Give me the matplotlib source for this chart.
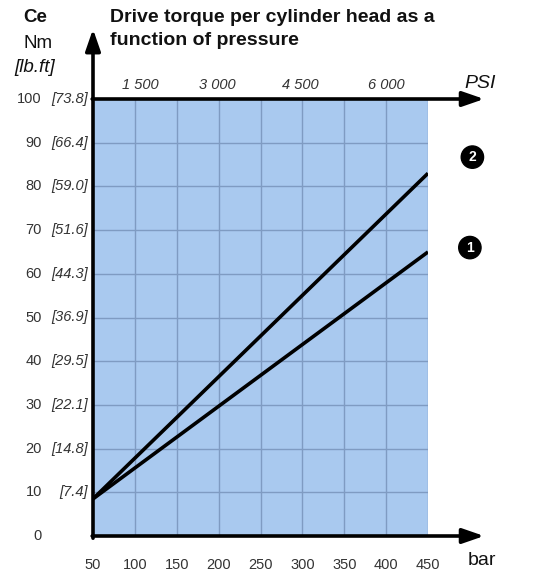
import matplotlib
matplotlib.use("Agg")
import matplotlib.pyplot as plt
from matplotlib.patches import Rectangle

plt.rcParams['font.family'] = ['Liberation Sans', 'DejaVu Sans']

# Data
pressure_bar = [50, 450]
torque_1 = [8.5, 65.0]
torque_2 = [8.5, 83.0]
x_ticks = [50, 100, 150, 200, 250, 300, 350, 400, 450]
y_ticks = [0, 10, 20, 30, 40, 50, 60, 70, 80, 90, 100]
y_lbft = ["", "[7.4]", "[14.8]", "[22.1]", "[29.5]", "[36.9]", "[44.3]",
          "[51.6]", "[59.0]", "[66.4]", "[73.8]"]
psi_labels = ["1 500", "3 000", "4 500", "6 000"]
psi_pos_bar = [106, 199, 297, 400]
curve_labels = ["1", "2"]
curve_label_pos = [(500, 66.0), (503, 86.7)]

W, H = 547, 578
fig = plt.figure(figsize=(W / 100, H / 100), dpi=100)
x0, x1 = 93, 428
ytop, ybot = 99, 536
ax = fig.add_axes([x0 / W, (H - ybot) / H, (x1 - x0) / W, (ybot - ytop) / H])
ax.set_xlim(50, 450)
ax.set_ylim(0, 100)
for s in ax.spines.values():
    s.set_visible(False)
ax.set_xticks([])
ax.set_yticks([])
ax.patch.set_alpha(0)

# blue region
ax.add_patch(Rectangle((50, 0), 400, 100, facecolor='#a9c9ef', edgecolor='none', zorder=0))
grid_c = '#7f9bc2'
for xv in x_ticks[1:]:
    ax.plot([xv, xv], [0, 100], color=grid_c, lw=1.0, zorder=1)
for yv in y_ticks[1:-1]:
    ax.plot([50, 450], [yv, yv], color=grid_c, lw=1.0, zorder=1)

# curves
ax.plot(pressure_bar, torque_1, color='black', lw=2.6, zorder=3, solid_capstyle='butt')
ax.plot(pressure_bar, torque_2, color='black', lw=2.6, zorder=3, solid_capstyle='butt')

# axes with arrows
arrow_kw = dict(arrowstyle='-|>,head_length=1.3,head_width=0.45', color='black', lw=2.6,
                shrinkA=0, shrinkB=0)
ax.annotate('', xy=(517, 0), xytext=(49, 0), arrowprops=arrow_kw, annotation_clip=False, zorder=4)
ax.annotate('', xy=(517, 100), xytext=(49, 100), arrowprops=arrow_kw, annotation_clip=False, zorder=4)
ax.annotate('', xy=(50, 116), xytext=(50, -0.5), arrowprops=arrow_kw, annotation_clip=False, zorder=4)

tc = '#333333'
# bottom tick labels
for xv in x_ticks:
    ax.text(xv, -6.6, str(xv), ha='center', va='center', fontsize=10.5, color=tc, clip_on=False)
ax.text(497, -5.6, 'bar', ha='left', va='center', fontsize=14, color='#111111', clip_on=False)

# top PSI labels
for lab, xp in zip(psi_labels, psi_pos_bar):
    ax.text(xp, 103.3, lab, ha='center', va='center', fontsize=10.5, style='italic',
            color=tc, clip_on=False)
ax.text(494, 103.6, 'PSI', ha='left', va='center', fontsize=14, style='italic',
        color='#111111', clip_on=False)

# left tick labels
for yv, lb in zip(y_ticks, y_lbft):
    ax.text(-11, yv, str(yv), ha='right', va='center', fontsize=10.5, color=tc, clip_on=False)
    if lb:
        ax.text(44, yv, lb, ha='right', va='center', fontsize=10.5, style='italic',
                color=tc, clip_on=False)

# y-axis title
fig.text(35 / W, 1 - 18 / H, 'Ce', ha='center', va='center', fontsize=13.5,
         fontweight='bold', color='#111111')
fig.text(38 / W, 1 - 44 / H, 'Nm', ha='center', va='center', fontsize=13.5, color='#111111')
fig.text(35 / W, 1 - 68 / H, '[lb.ft]', ha='center', va='center', fontsize=13.5,
         style='italic', color='#111111')

# title
fig.text(110 / W, 1 - 9 / H, 'Drive torque per cylinder head as a\nfunction of pressure',
         ha='left', va='top', fontsize=14, fontweight='bold', color='#111111',
         linespacing=1.45)

# curve number markers
for lab, (xp, yp) in zip(curve_labels, curve_label_pos):
    ax.text(xp, yp, lab, ha='center', va='center', fontsize=10, fontweight='bold',
            color='white', clip_on=False,
            bbox=dict(boxstyle='circle,pad=0.3', facecolor='black', edgecolor='black'))

fig.savefig('out.png', dpi=100)
